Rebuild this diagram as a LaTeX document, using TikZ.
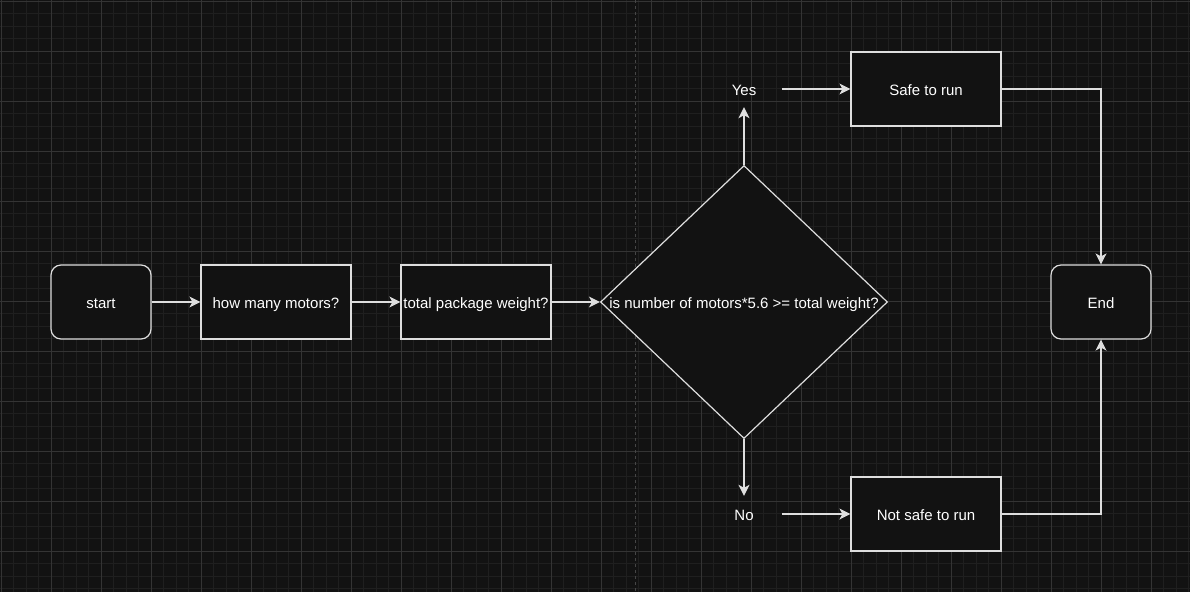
\documentclass[tikz,border=0pt]{standalone}
\usepackage{fontspec}
\setmainfont{Liberation Sans}
\usetikzlibrary{shapes.geometric,arrows.meta}

\definecolor{bgcol}{RGB}{18,18,18}
\definecolor{minorcol}{RGB}{31,31,31}
\definecolor{majorcol}{RGB}{52,52,52}
\definecolor{pagecol}{RGB}{70,70,70}
\definecolor{edgecol}{RGB}{222,222,222}

\tikzset{
  box/.style={draw=edgecol, fill=bgcol, line width=1.2, minimum width=150, minimum height=74, inner sep=0, text=white, text height=12pt, text depth=0pt},
  terminal/.style={box, rounded corners=10, minimum width=100},
  decision/.style={draw=edgecol, fill=bgcol, line width=1.2, diamond, minimum width=287, minimum height=273, inner sep=0},
  txt/.style={text=white, inner sep=0, minimum width=76, minimum height=36, text height=12pt, text depth=0pt},
  flow/.style={draw=edgecol, line width=1.2, -{Stealth[length=11pt, width=11pt, inset=3pt, fill=edgecol]}}
}

\begin{document}
\begin{tikzpicture}[x=1pt, y=-1pt, font=\fontsize{15}{18}\selectfont]
  \fill[bgcol] (0,0) rectangle (1190,592);
  \useasboundingbox (0,0) rectangle (1190,592);

  % grid
  \foreach \k in {0,...,95} {
    \draw[minorcol, line width=1] (1+12.5*\k,0) -- (1+12.5*\k,592);
  }
  \foreach \k in {0,...,47} {
    \draw[minorcol, line width=1] (0,1+12.5*\k) -- (1190,1+12.5*\k);
  }
  \foreach \k in {0,...,23} {
    \draw[majorcol, line width=1] (1+50*\k,0) -- (1+50*\k,592);
  }
  \foreach \k in {0,...,11} {
    \draw[majorcol, line width=1] (0,1+50*\k) -- (1190,1+50*\k);
  }
  \draw[pagecol, line width=1, dash pattern=on 3 off 3] (635,0) -- (635,592);

  \node[terminal] (start) at (101,302) {start};
  \node[box] (motors) at (276,302) {how many motors?};
  \node[box] (weight) at (476,302) {total package weight?};
  \node[decision] (check) at (744,302) {};
  \node[text=white, inner sep=0, text height=12pt, text depth=0pt] (checktxt) at (check.center) {is number of motors*5.6 >= total weight?};
  \node[txt] (yes) at (744,89) {Yes};
  \node[txt] (no) at (744,514) {No};
  \node[box] (safe) at (926,89) {Safe to run};
  \node[box] (unsafe) at (926,514) {Not safe to run};
  \node[terminal] (end) at (1101,302) {End};

  \draw[flow] (start) -- (motors);
  \draw[flow] (motors) -- (weight);
  \draw[flow] (weight) -- (check.west);
  \draw[flow] (check.north) -- (yes.south);
  \draw[flow] (check.south) -- (no.north);
  \draw[flow] (yes.east) -- (safe.west);
  \draw[flow] (no.east) -- (unsafe.west);
  \draw[flow] (safe.east) -| (end.north);
  \draw[flow] (unsafe.east) -| (end.south);
\end{tikzpicture}
\end{document}
